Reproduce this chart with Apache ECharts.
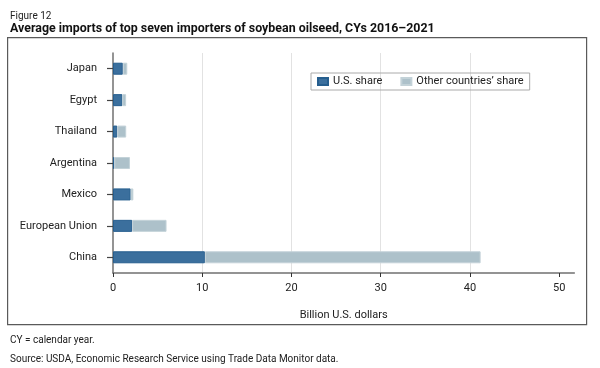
<!DOCTYPE html>
<html><head><meta charset="utf-8">
<script src="https://cdn.jsdelivr.net/npm/echarts@6/dist/echarts.min.js"></script>
<style>html,body{margin:0;padding:0;background:#fff}#c{width:600px;height:368px}</style>
</head><body><div id="c"></div>
<script>
const categories = ['China', 'European Union', 'Mexico', 'Argentina', 'Thailand', 'Egypt', 'Japan'];
const usShare = [10.3, 2.15, 1.98, 0.15, 0.48, 1.05, 1.1];
const otherShare = [30.9, 3.85, 0.3, 1.75, 1.0, 0.42, 0.5];
const xTicks = [0, 10, 20, 30, 40, 50];

const FONT = 'Roboto';
const chart = echarts.init(document.getElementById('c'), null, {renderer: 'canvas'});
chart.setOption({
  animation: false,
  textStyle: {fontFamily: FONT},
  graphic: [{
    type: 'rect', left: 7, top: 37, z: -1,
    shape: {width: 579, height: 287},
    style: {fill: '#fff', stroke: '#5a5a5a', lineWidth: 1.2}
  }],
  title: [
    {text: 'Figure 12', left: 5, top: 6, textStyle: {fontSize: 10, fontWeight: 'normal', color: '#222', fontFamily: FONT}},
    {text: 'Average imports of top seven importers of soybean oilseed, CYs 2016–2021', left: 5, top: 18, textStyle: {fontSize: 12.4, fontWeight: 'bold', color: '#111', fontFamily: FONT}},
    {text: 'CY = calendar year.', left: 5, top: 330, textStyle: {fontSize: 10, fontWeight: 'normal', color: '#222', fontFamily: FONT}},
    {text: 'Source: USDA, Economic Research Service using Trade Data Monitor data.', left: 5, top: 349, textStyle: {fontSize: 10, fontWeight: 'normal', color: '#222', fontFamily: FONT}}
  ],
  legend: {
    left: 311, top: 73, width: 214, height: 16,
    icon: 'rect',
    itemWidth: 10, itemHeight: 7, itemGap: 18,
    padding: [3, 6, 3, 6],
    borderColor: '#aaa', borderWidth: 1, borderRadius: 0,
    textStyle: {fontSize: 11, color: '#222', fontFamily: FONT},
    data: ['U.S. share', 'Other countries’ share']
  },
  grid: {left: 113, right: 25.7, top: 53, bottom: 95, containLabel: false},
  xAxis: {
    type: 'value', min: 0, max: 51.7, interval: 10,
    name: 'Billion U.S. dollars', nameLocation: 'middle', nameGap: 37,
    nameTextStyle: {fontSize: 11, color: '#222', fontFamily: FONT},
    axisLine: {show: true, lineStyle: {color: '#707070', width: 1.5}},
    axisTick: {show: true, length: 4, customValues: xTicks, lineStyle: {color: '#333'}},
    axisLabel: {customValues: xTicks, fontSize: 11, color: '#222', margin: 10, fontFamily: FONT},
    splitLine: {show: true, showMinLine: false, showMaxLine: false, lineStyle: {color: '#e2e2e2', width: 1}}
  },
  yAxis: {
    type: 'category', data: categories,
    axisLine: {show: true, lineStyle: {color: '#707070', width: 1.5}},
    axisTick: {show: true, alignWithLabel: true, length: 6, lineStyle: {color: '#444', width: 1.2}},
    axisLabel: {fontSize: 11, color: '#222', margin: 16, fontFamily: FONT}
  },
  series: [
    {name: 'U.S. share', type: 'bar', stack: 'a', barWidth: 12, data: usShare,
      itemStyle: {color: '#3b6f9d', borderColor: '#265e8e', borderWidth: 1}},
    {name: 'Other countries’ share', type: 'bar', stack: 'a', barWidth: 12, data: otherShare,
      itemStyle: {color: '#adc1ca', borderColor: '#c3d2d8', borderWidth: 1}}
  ]
});
</script></body></html>
